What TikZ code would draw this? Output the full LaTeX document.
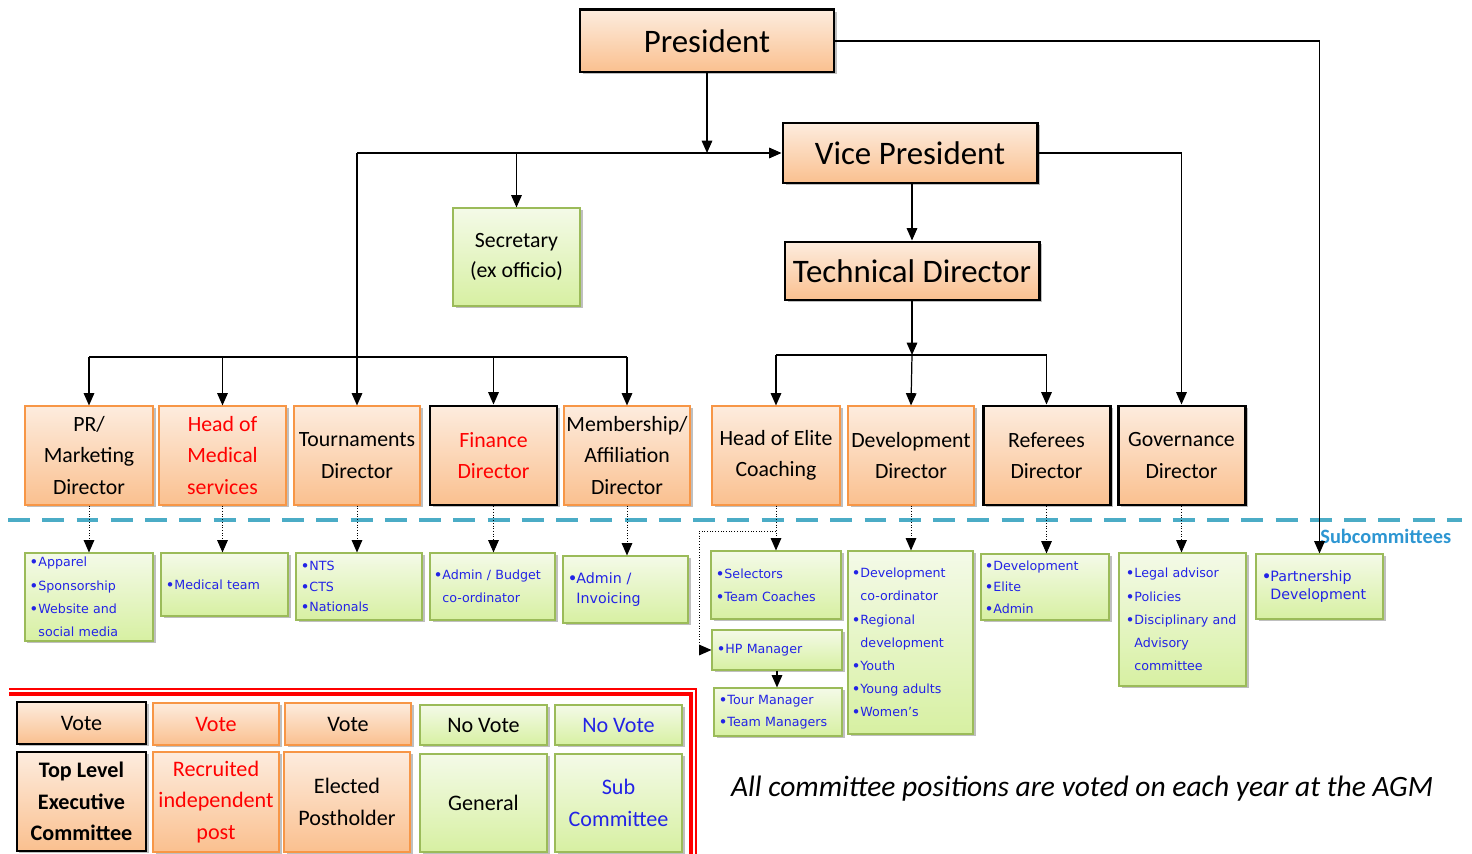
\documentclass[tikz,border=0pt]{standalone}
\usepackage{fontspec}
\setmainfont{Carlito}
\newfontfamily\itemfont{DejaVu Sans}
\usetikzlibrary{arrows.meta,shadows,calc}
\definecolor{orTop}{RGB}{253,236,222}
\definecolor{orBot}{RGB}{250,192,143}
\definecolor{orLine}{RGB}{247,150,70}
\definecolor{grTop}{RGB}{244,250,232}
\definecolor{grBot}{RGB}{215,240,162}
\definecolor{grLine}{RGB}{155,187,89}
\definecolor{itemBlue}{RGB}{35,35,230}
\definecolor{subBlue}{RGB}{45,150,210}
\definecolor{dashBlue}{RGB}{75,172,198}
\definecolor{pRed}{RGB}{255,0,0}
\newcommand\bigfont{\fontsize{18.7}{22}\selectfont}
\newcommand\dirfont{\fontsize{12.4}{17.9}\selectfont}
\newcommand\legfont{\fontsize{12.6}{18}\selectfont}
\newcommand\itfont{\itemfont\fontsize{7.2}{13.2}\selectfont}
\newcommand\bl{\makebox[4.8pt][l]{\bfseries •}}
\newcommand\bc{\hspace*{4.8pt}}
\newcommand\bx[6]{\node[#1, minimum width={(#5-#3)*0.02cm}, minimum height={(#6-#4)*0.02cm}] (#2) at ({(#3+#5)/2},{(#4+#6)/2})}
\newcommand\lx[7]{\pgfmathsetlengthmacro\tw{(#5-#3-2*#7)*0.02cm}\pgfmathsetlengthmacro\ps{#7*0.02cm}\node[#1, inner xsep=\ps, text width=\tw, align=left, minimum width={(#5-#3)*0.02cm}, minimum height={(#6-#4)*0.02cm}] (#2) at ({(#3+#5)/2},{(#4+#6)/2})}
\tikzset{
  shad/.style={drop shadow={shadow xshift=0.05cm, shadow yshift=-0.05cm, opacity=0.25, fill=black}},
  dir/.style={draw=orLine, line width=0.6pt, top color=orTop, bottom color=orBot, shad, font=\dirfont, align=center, inner sep=0pt},
  dirk/.style={dir, draw=black, line width=1.7pt},
  big/.style={dirk, font=\bigfont},
  grn/.style={draw=grLine, line width=0.6pt, top color=grTop, bottom color=grBot, shad, inner sep=0pt},
  lst/.style={grn, font=\itfont, text=itemBlue, inner ysep=0pt},
  arr/.style={line width=0.7pt, -{Triangle[length=7pt,width=6pt]}},
  ln/.style={line width=0.7pt},
  dotarr/.style={line width=0.55pt, densely dotted, -{Triangle[length=7pt,width=6pt]}},
}
\begin{document}
\begin{tikzpicture}[x=0.02cm,y=-0.02cm]
\useasboundingbox (0,0) rectangle (1472,854);
% top level
\bx{big}{pres}{580}{10}{834}{72} {President};
\bx{big}{vp}{783}{123}{1037}{183} {Vice President};
\bx{big}{td}{785}{242}{1039}{300} {Technical Director};
\bx{grn, font=\fontsize{12.4}{17.2}\selectfont, align=center}{sec}{453}{208}{580}{306} {Secretary\\(ex officio)};
% directors
\bx{dir}{pr}{25}{406}{153}{505} {PR/\\Marketing\\Director};
\bx{dir, text=pRed}{med}{159}{406}{286}{505} {Head of\\Medical\\services};
\bx{dir}{tour}{294}{406}{420}{505} {Tournaments\\Director};
\bx{dirk, text=pRed}{fin}{430}{406}{557}{505} {Finance\\Director};
\bx{dir}{memb}{564}{406}{690}{505} {Membership/\\Affiliation\\Director};
\bx{dir}{elite}{712}{406}{840}{505} {Head of Elite\\Coaching};
\bx{dir}{dev}{848}{406}{974}{505} {Development\\Director};
\bx{dirk}{ref}{983}{406}{1110}{505} {Referees\\Director};
\bx{dirk}{gov}{1118}{406}{1245}{505} {Governance\\Director};
% subcommittee divider
\draw[dashBlue, line width=2.8pt, dash pattern=on 12.5pt off 7pt] (8,520) -- (1462,520);
\node[font=\bfseries\fontsize{11.6}{14}\selectfont, text=subBlue, anchor=west, inner sep=0pt] (subl) at (1320,536) {Subcommittees};
% subcommittee boxes
\lx{lst}{prs}{25}{553}{153}{641}{5} {\bl Apparel\\\bl Sponsorship\\\bl Website and\\\bc social media};
\lx{lst}{meds}{161}{553}{288}{616}{5} {\bl Medical team};
\lx{lst, font=\itemfont\fontsize{7.2}{11.6}\selectfont}{tours}{296}{553}{422}{620}{5} {\bl NTS\\\bl CTS\\\bl Nationals};
\lx{lst}{fins}{430}{553}{555}{620}{4} {\bl Admin / Budget\\\bc co-ordinator};
\lx{lst, font=\itemfont\fontsize{8.1}{11.5}\selectfont}{membs}{563}{556}{688}{623}{5} {\bl Admin /\\\bc Invoicing};
\lx{lst}{elites}{711}{551}{841}{619}{5} {\bl Selectors\\\bl Team Coaches};
\lx{lst}{hp}{712}{630}{842}{670}{5} {\bl HP Manager};
\lx{lst, font=\itemfont\fontsize{7.2}{12.4}\selectfont}{tourm}{714}{688}{842}{736}{5} {\bl Tour Manager\\\bl Team Managers};
\lx{lst}{devs}{848}{551}{973}{734}{4} {\bl Development\\\bc co-ordinator\\\bl Regional\\\bc development\\\bl Youth\\\bl Young adults\\\bl Women’s};
\lx{lst, font=\itemfont\fontsize{7.2}{12.2}\selectfont}{refs}{981}{554}{1109}{620}{4} {\bl Development\\\bl Elite\\\bl Admin};
\lx{lst}{govs}{1119}{553}{1246}{686}{7} {\bl Legal advisor\\\bl Policies\\\bl \mbox{Disciplinary and}\\\bc Advisory\\\bc committee};
\lx{lst, font=\itemfont\fontsize{8.1}{10.4}\selectfont}{part}{1256}{554}{1383}{619}{6} {\bl Partnership\\\bc Development};
% connectors
\coordinate (busy) at (0,357);
\coordinate (bus2) at (0,355);
\coordinate (ebry) at (0,531);
\coordinate (elbow) at (699,531);
\draw[arr] (pres.south) -- (pres.south |- vp.west);
\draw[arr] (tour.north |- vp.west) -- (vp.west);
\draw[arr] (tour.north |- vp.west) -- (tour.north);
\draw[arr] (sec.north |- vp.west) -- (sec.north);
\draw[ln] (pr.north |- busy) -- (memb.north |- busy);
\draw[arr] (pr.north |- busy) -- (pr.north);
\draw[arr] (med.north |- busy) -- (med.north);
\draw[arr] (fin.north |- busy) -- (fin.north);
\draw[arr] (memb.north |- busy) -- (memb.north);
\draw[arr] (pres.east) -| (part.north);
\draw[arr] (vp.east) -| (gov.north);
\draw[arr] (td.north |- vp.south) -- (td.north);
\draw[arr] (td.south) -- (td.south |- bus2);
\draw[arr] (td.south |- bus2) -- (dev.north);
\draw[ln] (elite.north |- bus2) -- (ref.north |- bus2);
\draw[arr] (elite.north |- bus2) -- (elite.north);
\draw[arr] (ref.north |- bus2) -- (ref.north);
% dotted to subcommittees
\draw[dotarr] (pr.south) -- (pr.south |- prs.north);
\draw[dotarr] (med.south) -- (med.south |- meds.north);
\draw[dotarr] (tour.south) -- (tour.south |- tours.north);
\draw[dotarr] (fin.south) -- (fin.south |- fins.north);
\draw[dotarr] (memb.south) -- (memb.south |- membs.north);
\draw[dotarr] (elite.south) -- (elite.south |- elites.north);
\draw[dotarr] (dev.south) -- (dev.south |- devs.north);
\draw[dotarr] (ref.south) -- (ref.south |- refs.north);
\draw[dotarr] (gov.south) -- (gov.south |- govs.north);
\draw[dotarr] (elite.south |- ebry) -- (elbow) |- (hp.west);
\draw[arr] (hp.south) -- (hp.south |- tourm.north);
% legend frame
\draw[pRed, line width=0.9pt] (9,689) -- (696,689) -- (696,854);
\draw[pRed, line width=2pt] (9,694) -- (691,694) -- (691,854);
% legend
\bx{dirk, font=\legfont}{l1}{17}{702}{146}{744} {Vote};
\bx{dir, font=\legfont, text=pRed}{l2}{153}{703}{279}{745} {Vote};
\bx{dir, font=\legfont}{l3}{285}{703}{411}{745} {Vote};
\bx{grn, font=\legfont}{l4}{420}{705}{547}{745} {No Vote};
\bx{grn, font=\legfont, text=itemBlue}{l5}{555}{705}{682}{745} {No Vote};
\bx{dirk, font=\legfont\bfseries}{m1}{17}{752}{146}{851} {Top Level\\Executive\\Committee};
\bx{dir, font=\legfont, text=pRed}{m2}{153}{752}{279}{852} {Recruited\\independent\\post};
\bx{dir, font=\legfont}{m3}{284}{752}{410}{852} {Elected\\Postholder};
\bx{grn, font=\legfont}{m4}{420}{754}{547}{852} {General};
\bx{grn, font=\legfont, text=itemBlue, align=center}{m5}{555}{754}{682}{852} {Sub\\Committee};
\node[font=\itshape\fontsize{16.8}{19}\selectfont, inner sep=0pt] (note) at (1082,789) {All committee positions are voted on each year at the AGM};
\end{tikzpicture}
\end{document}
